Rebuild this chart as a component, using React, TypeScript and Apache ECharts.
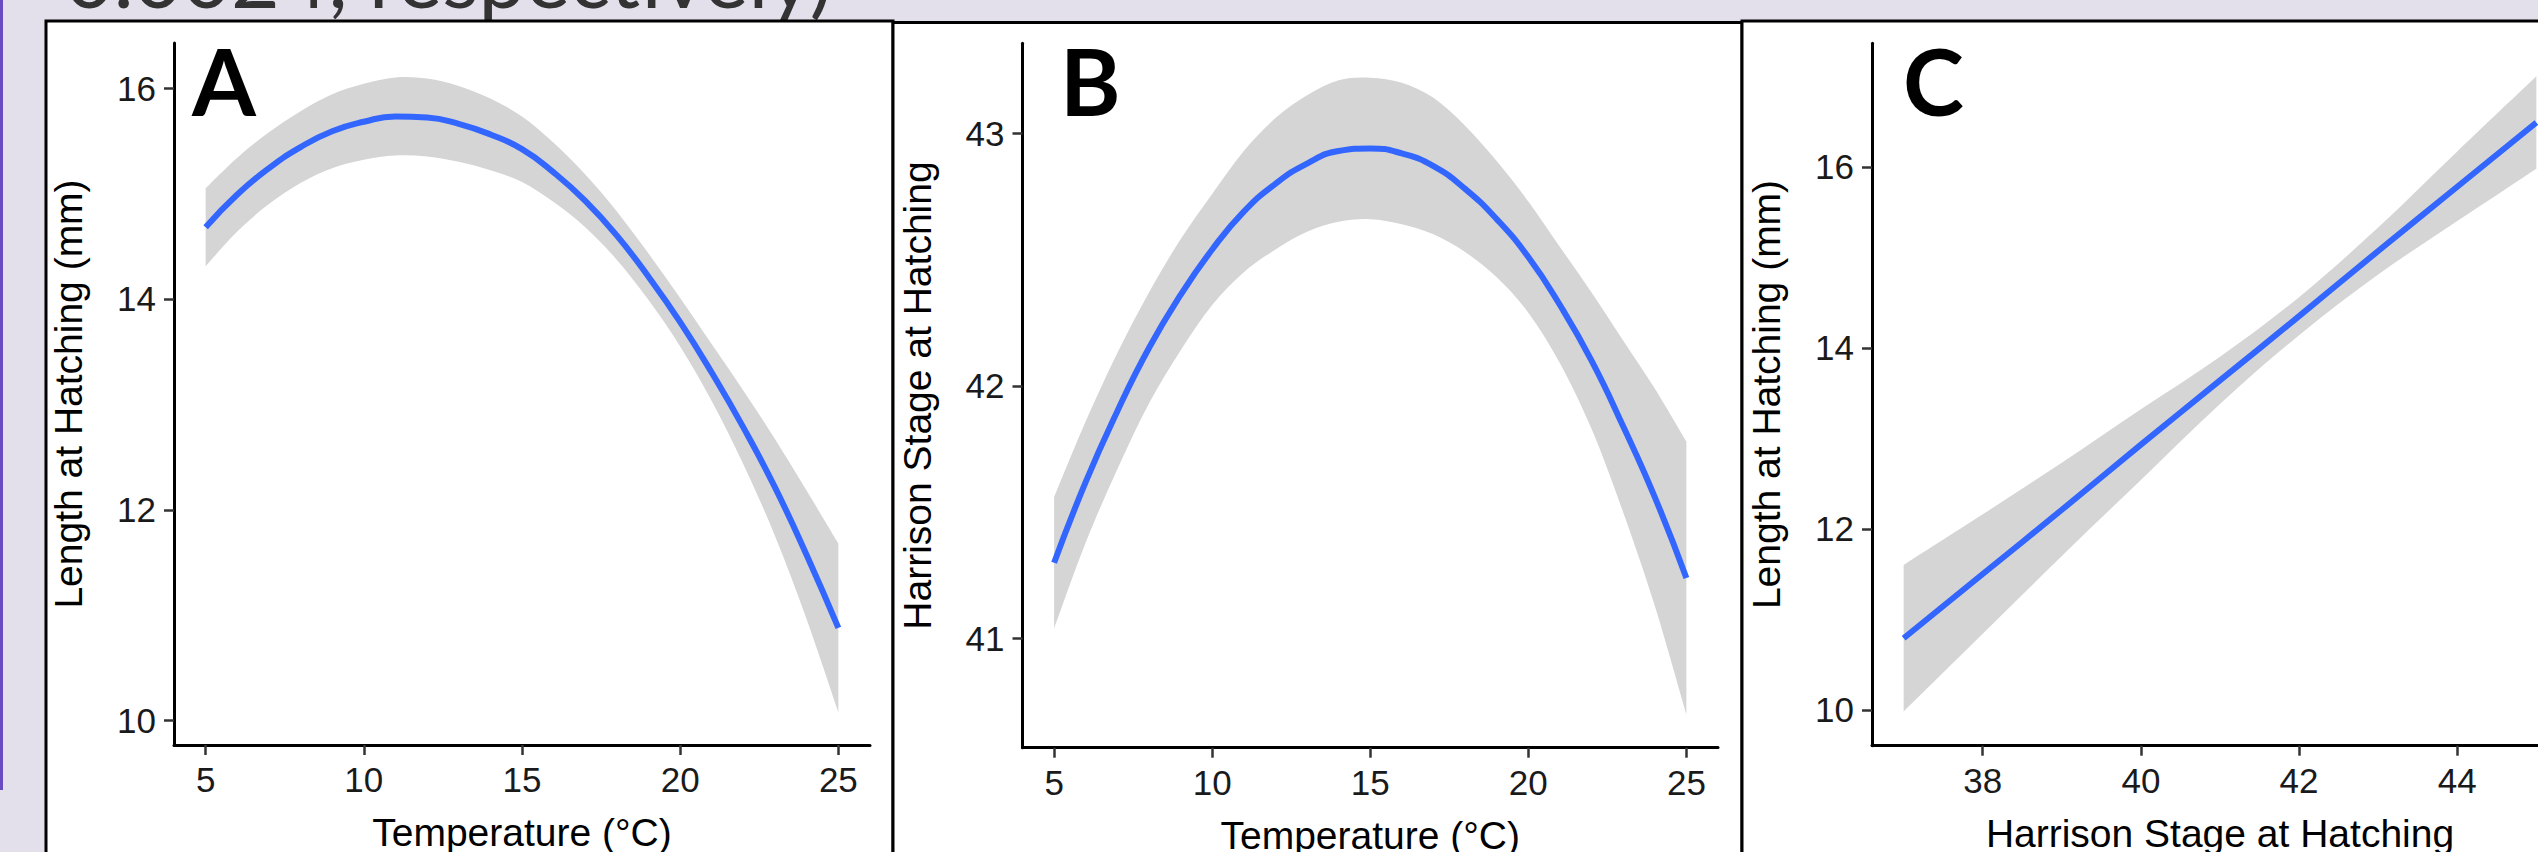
import React, { useEffect, useRef } from 'react';
import * as echarts from 'echarts';

// ---- Data ----
const temperature = [5, 6, 7, 8, 9, 10, 11, 12, 13, 14, 15, 16, 17, 18, 19, 20, 21, 22, 23, 24, 25];

// Panel A: Length at hatching vs temperature
const lengthFit = [14.68, 14.99, 15.24, 15.44, 15.59, 15.68, 15.73, 15.72, 15.66, 15.56, 15.42, 15.2, 14.93, 14.6, 14.21, 13.78, 13.3, 12.78, 12.21, 11.57, 10.88];
const lengthUpper = [15.05, 15.34, 15.58, 15.78, 15.94, 16.04, 16.1, 16.09, 16.02, 15.9, 15.73, 15.48, 15.18, 14.83, 14.43, 14.01, 13.57, 13.13, 12.67, 12.18, 11.68];
const lengthLower = [14.31, 14.64, 14.9, 15.1, 15.24, 15.32, 15.36, 15.35, 15.3, 15.22, 15.11, 14.92, 14.68, 14.37, 13.99, 13.55, 13.03, 12.43, 11.75, 10.96, 10.08];

// Panel B: Harrison stage at hatching vs temperature
const stageFit = [41.3, 41.62, 41.9, 42.15, 42.36, 42.54, 42.69, 42.8, 42.88, 42.93, 42.94, 42.92, 42.87, 42.78, 42.66, 42.51, 42.32, 42.1, 41.84, 41.56, 41.24];
const stageUpper = [41.56, 41.86, 42.13, 42.37, 42.58, 42.76, 42.93, 43.06, 43.15, 43.21, 43.22, 43.2, 43.14, 43.03, 42.89, 42.73, 42.55, 42.37, 42.18, 41.99, 41.78];
const stageLower = [41.04, 41.38, 41.67, 41.93, 42.14, 42.32, 42.45, 42.54, 42.61, 42.65, 42.66, 42.64, 42.6, 42.53, 42.43, 42.29, 42.09, 41.83, 41.5, 41.13, 40.7];

// Panel C: Length at hatching vs Harrison stage
const stage = [37, 38, 39, 40, 41, 42, 43, 44, 45];
const lenByStageFit = [10.79, 11.5, 12.21, 12.93, 13.64, 14.35, 15.07, 15.78, 16.49];
const lenByStageUpper = [11.6, 12.16, 12.73, 13.32, 13.9, 14.56, 15.33, 16.17, 17.0];
const lenByStageLower = [9.98, 10.84, 11.7, 12.54, 13.38, 14.14, 14.81, 15.4, 15.98];

// Tick labels
const tempTicks = [5, 10, 15, 20, 25];
const lengthTicks = [10, 12, 14, 16];
const stageTicks = [41, 42, 43];
const stageAxisTicks = [38, 40, 42, 44];

const panelLetters = ['A', 'B', 'C'];
const headerText = '0.0024, respectively)';

const FONT = 'Liberation Sans';
const BLUE = '#3366ff';
const BAND = '#d5d5d5';

function makeX(gridIndex: number, min: number, max: number, ticks: number[], name: string) {
  return {
    type: 'value',
    gridIndex,
    min,
    max,
    name,
    nameLocation: 'middle',
    nameGap: 68,
    nameMoveOverlap: false,
    nameTextStyle: { fontFamily: FONT, fontSize: 39, color: '#000' },
    axisLine: { show: true, onZero: false, lineStyle: { color: '#000', width: 3 } },
    axisTick: { show: true, inside: false, length: 10, customValues: ticks, lineStyle: { color: '#333', width: 2.5 } },
    axisLabel: { show: true, margin: 17, customValues: ticks, fontFamily: FONT, fontSize: 35, color: '#1a1a1a' },
    splitLine: { show: false },
  };
}

function makeY(gridIndex: number, min: number, max: number, ticks: number[], name: string) {
  return {
    type: 'value',
    gridIndex,
    min,
    max,
    name,
    nameLocation: 'middle',
    nameGap: 86,
    nameMoveOverlap: false,
    nameTextStyle: { fontFamily: FONT, fontSize: 39, color: '#000' },
    axisLine: { show: true, onZero: false, lineStyle: { color: '#000', width: 3 } },
    axisTick: { show: true, inside: false, length: 10, customValues: ticks, lineStyle: { color: '#333', width: 2.5 } },
    axisLabel: { show: true, margin: 18, customValues: ticks, fontFamily: FONT, fontSize: 35, color: '#1a1a1a' },
    splitLine: { show: false },
  };
}

// Smooth (Catmull-Rom) path segment through pixel points, continuing a path.
function smoothSegments(pts: number[][]): string {
  let d = '';
  for (let i = 0; i < pts.length - 1; i++) {
    const p0 = pts[Math.max(i - 1, 0)];
    const p1 = pts[i];
    const p2 = pts[i + 1];
    const p3 = pts[Math.min(i + 2, pts.length - 1)];
    const c1x = p1[0] + (p2[0] - p0[0]) / 6;
    const c1y = p1[1] + (p2[1] - p0[1]) / 6;
    const c2x = p2[0] - (p3[0] - p1[0]) / 6;
    const c2y = p2[1] - (p3[1] - p1[1]) / 6;
    d += ` C ${c1x} ${c1y} ${c2x} ${c2y} ${p2[0]} ${p2[1]}`;
  }
  return d;
}

function makeSeries(idx: number, xs: number[], lower: number[], upper: number[], fit: number[]) {
  return [
    {
      type: 'custom',
      xAxisIndex: idx,
      yAxisIndex: idx,
      silent: true,
      z: 1,
      data: xs.map((x, i) => [x, lower[i], upper[i]]),
      encode: { x: 0, y: [1, 2] },
      renderItem: (params: any, api: any) => {
        if (params.dataIndex !== 0) return null;
        const top = xs.map((x, i) => api.coord([x, upper[i]]));
        const bottom = xs.map((x, i) => api.coord([x, lower[i]])).reverse();
        const d =
          `M ${top[0][0]} ${top[0][1]}` +
          smoothSegments(top) +
          ` L ${bottom[0][0]} ${bottom[0][1]}` +
          smoothSegments(bottom) +
          ' Z';
        return {
          type: 'path',
          shape: { pathData: d },
          style: { fill: BAND, stroke: 'none' },
        };
      },
    },
    {
      type: 'line',
      xAxisIndex: idx,
      yAxisIndex: idx,
      data: xs.map((x, i) => [x, fit[i]]),
      symbol: 'none',
      smooth: true,
      lineStyle: { color: BLUE, width: 6 },
      z: 3,
    },
  ];
}

function letter(text: string, x: number) {
  return {
    type: 'text',
    x,
    y: 80,
    z: 10,
    style: {
      text,
      fill: '#000',
      fontFamily: 'Lato',
      fontWeight: 'bold',
      fontSize: 92,
      textAlign: 'left',
      align: 'left',
      textVerticalAlign: 'middle',
      verticalAlign: 'middle',
    },
  };
}

export default function App() {
  const ref = useRef<HTMLDivElement>(null);

  useEffect(() => {
    document.body.style.margin = '0';
    if (!ref.current) return;
    const chart = echarts.init(ref.current, undefined, { renderer: 'svg' });
    const option: any = {
      animation: false,
      backgroundColor: '#e3dfeb',
      grid: [
        { left: 174, top: 43, width: 696, height: 702, containLabel: false, outerBoundsMode: 'none' },
        { left: 1022.5, top: 43.3, width: 695.5, height: 704.4, containLabel: false, outerBoundsMode: 'none' },
        { left: 1872, top: 43.3, width: 696, height: 702.4, containLabel: false, outerBoundsMode: 'none' },
      ],
      xAxis: [
        makeX(0, 4, 26, tempTicks, 'Temperature (°C)'),
        makeX(1, 4, 26, tempTicks, 'Temperature (°C)'),
        makeX(2, 36.6, 45.4, stageAxisTicks, 'Harrison Stage at Hatching'),
      ],
      yAxis: [
        makeY(0, 9.77, 16.427, lengthTicks, 'Length at Hatching (mm)'),
        makeY(1, 40.568, 43.356, stageTicks, 'Harrison Stage at Hatching'),
        makeY(2, 9.603, 17.365, lengthTicks, 'Length at Hatching (mm)'),
      ],
      series: [
        ...makeSeries(0, temperature, lengthLower, lengthUpper, lengthFit),
        ...makeSeries(1, temperature, stageLower, stageUpper, stageFit),
        ...makeSeries(2, stage, lenByStageLower, lenByStageUpper, lenByStageFit),
      ],
      graphic: {
        elements: [
          { type: 'rect', z: -10, shape: { x: 0, y: 0, width: 3, height: 790 }, style: { fill: '#6a4cc0' } },
          {
            type: 'text',
            x: 65,
            y: -25,
            z: -9,
            style: {
              text: headerText,
              fill: '#333',
              fontFamily: 'Lato',
              fontSize: 84,
              textAlign: 'left',
              align: 'left',
              textVerticalAlign: 'middle',
              verticalAlign: 'middle',
            },
          },
          { type: 'rect', z: -8, shape: { x: 46, y: 21, width: 847, height: 900 }, style: { fill: '#fff', stroke: '#000', lineWidth: 3 } },
          { type: 'rect', z: -7, shape: { x: 893, y: 22.5, width: 849, height: 900 }, style: { fill: '#fff', stroke: '#000', lineWidth: 3 } },
          { type: 'rect', z: -6, shape: { x: 1742, y: 21, width: 900, height: 900 }, style: { fill: '#fff', stroke: '#000', lineWidth: 3 } },
          letter(panelLetters[0], 192),
          letter(panelLetters[1], 1060),
          letter(panelLetters[2], 1903),
        ],
      },
    };
    chart.setOption(option);
    return () => chart.dispose();
  }, []);

  return (
    <div
      ref={ref}
      style={{ position: 'absolute', left: 0, top: 0, width: 2538, height: 852 }}
    />
  );
}
